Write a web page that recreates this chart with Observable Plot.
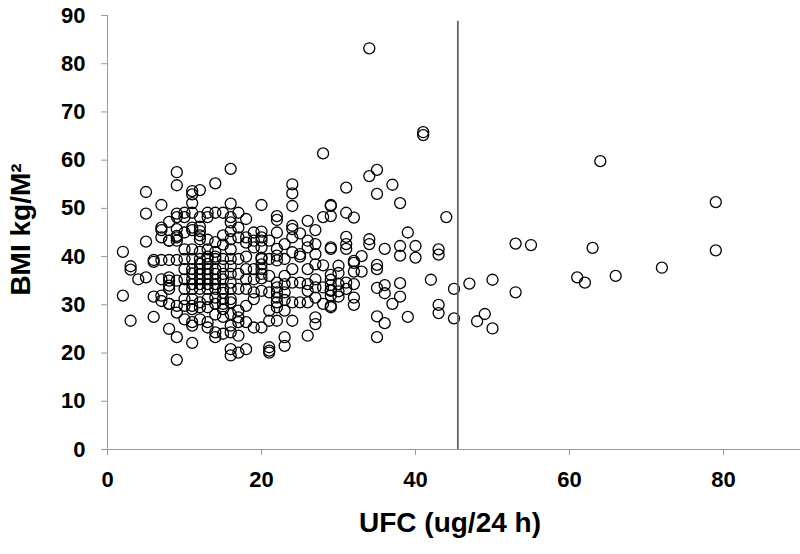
<!DOCTYPE html>
<html>
<head>
<meta charset="utf-8">
<script src="https://cdn.jsdelivr.net/npm/d3@7"></script>
<script src="https://cdn.jsdelivr.net/npm/@observablehq/plot@0.6"></script>
<style>
  html, body { margin: 0; padding: 0; background: #fff; }
  #chart { width: 800px; height: 554px; }
</style>
</head>
<body>
<div id="chart"></div>
<script>
// UFC (ug/24 h) column values and the BMI values observed at each
const ufcColumns = [2,3,4,5,6,7,8,9,10,11,12,13,14,15,16,17,18,19,20,21,22,23,24,25,26,27,28,29,30,31,32,33,34,35,36,37,38,39,40,41,42,43,44,45,47,48,49,50,53,55,61,62,63,64,66,72,79];
const bmiByColumn = [
  [41.0, 31.9],
  [38.0, 37.3, 26.7],
  [35.3],
  [35.7, 53.4, 48.9, 43.1],
  [39.3, 38.9, 31.7, 27.5],
  [50.7, 46.0, 45.5, 44.0, 39.3, 35.3, 31.9, 30.8],
  [47.2, 43.3, 43.3, 39.3, 35.0, 35.7, 34.0, 33.3, 30.2, 30.2, 25.0],
  [57.5, 54.8, 48.9, 48.2, 45.7, 44.3, 44.0, 43.3, 39.3, 35.0, 29.8, 28.4, 23.3, 18.6],
  [49.1, 48.2, 45.0, 41.5, 39.5, 37.4, 35.3, 33.3, 31.2, 29.8, 27.0],
  [53.6, 52.9, 51.1, 49.1, 46.0, 45.5, 41.5, 39.5, 37.4, 36.5, 35.3, 34.3, 33.3, 31.2, 29.8, 29.1, 26.4, 25.7, 22.1],
  [53.8, 48.2, 46.2, 45.3, 44.4, 43.6, 41.0, 39.5, 38.5, 37.4, 36.4, 35.3, 34.3, 33.3, 30.5, 29.5, 27.0],
  [49.1, 48.2, 43.5, 41.5, 40.0, 39.5, 38.5, 37.4, 36.4, 35.3, 34.3, 33.3, 31.2, 29.5, 26.4, 25.3],
  [55.2, 49.1, 43.0, 41.0, 40.0, 39.5, 37.4, 36.4, 35.3, 34.3, 33.3, 31.5, 30.2, 28.0, 24.3, 23.3],
  [49.1, 44.4, 42.5, 39.5, 38.0, 36.4, 35.3, 33.3, 32.5, 31.2, 30.2, 29.1, 27.5, 24.0],
  [58.2, 51.0, 48.2, 47.1, 45.3, 43.6, 41.5, 39.5, 38.0, 36.4, 34.6, 33.3, 31.2, 30.5, 28.1, 25.7, 24.3, 20.8, 19.5],
  [49.1, 46.0, 44.0, 39.5, 36.4, 33.3, 28.8, 27.4, 26.4, 23.6, 20.1],
  [47.8, 44.0, 42.9, 40.0, 37.4, 35.3, 33.3, 29.8, 26.4, 20.8],
  [45.0, 43.3, 41.9, 37.4, 35.3, 32.6, 31.2, 25.3],
  [50.7, 45.2, 44.0, 43.3, 41.9, 39.8, 39.5, 38.4, 37.4, 36.4, 35.5, 32.9, 25.3],
  [43.3, 39.5, 36.0, 32.6, 28.8, 26.7, 21.2, 20.5, 20.1],
  [48.4, 47.6, 45.0, 41.6, 40.2, 39.2, 34.6, 33.6, 32.6, 31.5, 30.5, 29.5, 26.7],
  [42.6, 39.5, 36.0, 34.3, 32.6, 31.0, 28.8, 23.3, 21.5],
  [55.0, 53.1, 50.5, 46.4, 45.7, 44.0, 40.9, 37.4, 34.6, 30.5, 26.7],
  [44.8, 40.5, 40.0, 34.6, 30.5],
  [47.4, 43.3, 41.9, 37.4, 34.3, 32.9, 30.5, 23.6],
  [45.5, 42.6, 40.5, 38.4, 35.3, 33.6, 31.5, 27.4, 26.0],
  [61.4, 48.2, 38.2, 33.6, 30.2],
  [50.7, 50.5, 48.4, 41.9, 41.6, 36.2, 35.2, 34.1, 33.1, 32.9, 31.9, 29.8, 29.5],
  [38.1, 36.6, 34.3, 32.8, 31.7],
  [54.3, 49.1, 44.1, 42.6, 41.6, 34.6, 33.3],
  [48.1, 39.1, 38.7, 36.9, 34.3, 31.5, 30.0],
  [40.1, 36.9],
  [83.2, 56.7, 43.6, 42.6],
  [58.0, 53.0, 38.3, 37.4, 33.5, 27.6, 23.3],
  [41.6, 34.1, 32.4, 26.2],
  [54.9, 30.2],
  [51.1, 42.2, 40.2, 34.5, 31.7],
  [45.0, 27.5],
  [42.2, 39.8],
  [65.8, 65.2],
  [35.2],
  [41.5, 40.4, 30.0, 28.3],
  [48.2],
  [33.3, 27.2],
  [34.4],
  [26.6],
  [28.1],
  [35.2, 25.1],
  [42.7, 32.6],
  [42.4],
  [35.7],
  [34.6],
  [41.8],
  [59.8],
  [36.0],
  [37.7],
  [51.3, 41.3]
];
const xTicks = [0, 20, 40, 60, 80];
const yTicks = [0, 10, 20, 30, 40, 50, 60, 70, 80, 90];
const cutoffUFC = [45.5];
const cutoffTop = 88.8;
const xLabel = "UFC (ug/24 h)";
const yLabel = "BMI kg/M\u00B2";

const points = [];
ufcColumns.forEach((u, i) => bmiByColumn[i].forEach(b => points.push({ufc: u, bmi: b})));

const font = "'Liberation Sans', Arial, Helvetica, sans-serif";
const chart = Plot.plot({
  width: 800,
  height: 554,
  marginLeft: 107,
  marginRight: 0,
  marginTop: 15,
  marginBottom: 105,
  style: {fontFamily: font, fontWeight: "bold", fontSize: "22px", color: "#000", background: "#fff", overflow: "visible"},
  x: {domain: [0, 90], label: null},
  y: {domain: [0, 90], label: null},
  marks: [
    Plot.axisY({ticks: yTicks, tickSize: 6, tickPadding: 16, stroke: "#999", fontSize: 22, fontWeight: "bold", label: null}),
    Plot.axisX({ticks: xTicks, tickSize: 6, tickPadding: 16, stroke: "#999", fontSize: 22, fontWeight: "bold", label: null}),
    Plot.ruleX([0], {stroke: "#999", strokeWidth: 1}),
    Plot.ruleY([0], {stroke: "#999", strokeWidth: 1}),
    Plot.dot(points, {x: "ufc", y: "bmi", r: 5.5, stroke: "#000", strokeWidth: 1.3, fill: "none"}),
    Plot.ruleX(cutoffUFC, {y1: 0, y2: cutoffTop, stroke: "#666", strokeWidth: 1.8}),
    Plot.text([xLabel], {frameAnchor: "bottom", dx: -4, dy: 74, textAnchor: "middle", lineAnchor: "middle", fontSize: 28, fontWeight: "bold", fill: "#000"}),
    Plot.text([yLabel], {frameAnchor: "left", dx: -86, dy: -3, rotate: -90, textAnchor: "middle", lineAnchor: "middle", fontSize: 28, fontWeight: "bold", fill: "#000"})
  ]
});
document.getElementById("chart").appendChild(chart);
</script>
</body>
</html>
